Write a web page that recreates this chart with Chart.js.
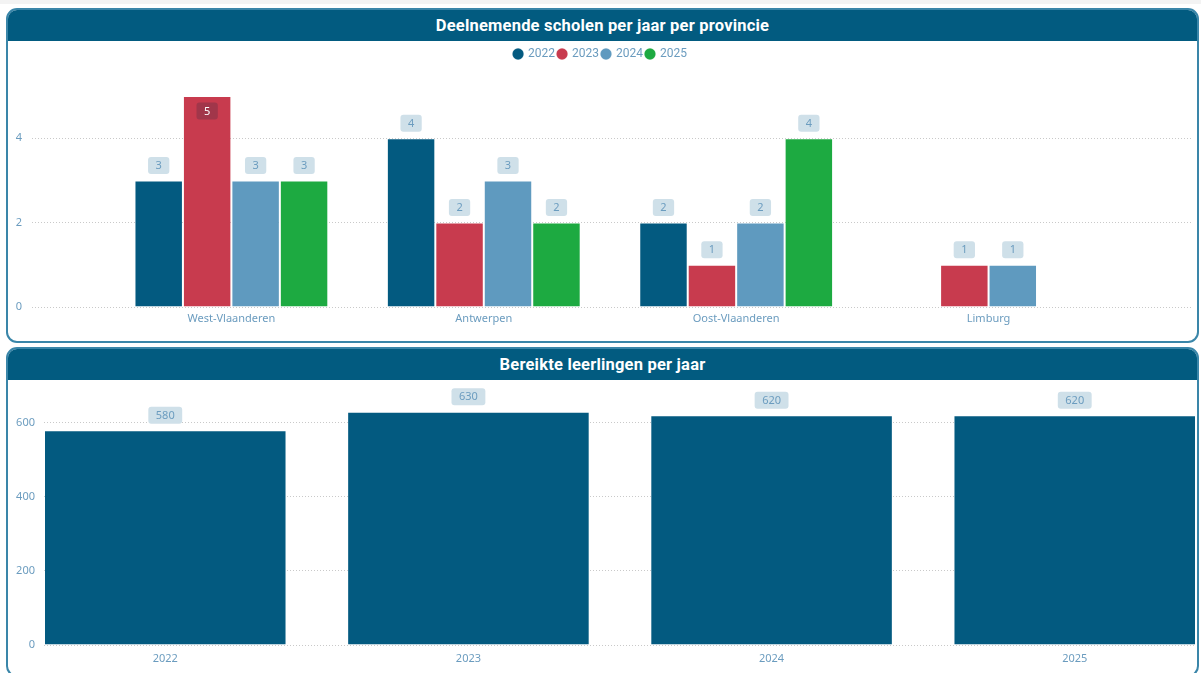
<!DOCTYPE html>
<html>
<head>
<meta charset="utf-8">
<script src="https://cdn.jsdelivr.net/npm/chart.js@4.4.0/dist/chart.umd.min.js"></script>
<style>
    body { margin: 0; background: #fff; width: 1201px; height: 673px; overflow: hidden; position: relative; }
    .strip { position: absolute; left: 0; top: 0; width: 1201px; height: 4px; background: #f3f3f3; }
    .panel { position: absolute; left: 6px; width: 1193px; border: 2px solid #3a86a9; border-radius: 11px; box-sizing: border-box; overflow: hidden; }
    .panel .head { height: 31px; background: #025b80; color: #fff; text-align: center; font: bold 16.5px Roboto, 'DejaVu Sans', sans-serif; line-height: 31px; letter-spacing: 0.2px; }
    canvas { position: absolute; }
</style>
</head>
<body>
<div class="strip"></div>
<div class="panel" style="top:8px;height:335px;"><div class="head">Deelnemende scholen per jaar per provincie</div></div>
<div class="panel" style="top:347px;height:330px;"><div class="head">Bereikte leerlingen per jaar</div></div>
<canvas id="schools" width="1190" height="300" style="left:8px;top:40px;"></canvas>
<canvas id="students" width="1190" height="292" style="left:8px;top:379px;"></canvas>
<script>
// schools per province per year
const provinces = ['West-Vlaanderen', 'Antwerpen', 'Oost-Vlaanderen', 'Limburg'];
const years = ['2022', '2023', '2024', '2025'];
const schools2022 = [3, 4, 2, null];
const schools2023 = [5, 2, 1, 1];
const schools2024 = [3, 3, 2, 1];
const schools2025 = [3, 2, 4, null];
const yearColors = ['#035a80', '#c83b4e', '#5f9abf', '#1daa41'];

// students reached per year
const studentYears = ['2022', '2023', '2024', '2025'];
const students = [580, 630, 620, 620];

const tickColor = '#6b9cbf';
const tickFont = { family: "'Segoe UI', 'Noto Sans', sans-serif", size: 11 };

// value labels in little rounded boxes, like the power bi ones
const valueLabels = {
    id: 'valueLabels',
    afterDatasetsDraw(chart) {
        const ctx = chart.ctx;
        const yMax = chart.scales.y.max;
        ctx.save();
        ctx.font = "11px 'Segoe UI', 'Noto Sans', sans-serif";
        ctx.textAlign = 'center';
        ctx.textBaseline = 'middle';
        chart.data.datasets.forEach((ds, i) => {
            chart.getDatasetMeta(i).data.forEach((bar, j) => {
                const v = ds.data[j];
                if (v === null || v === undefined) return;
                const txt = String(v);
                const w = ctx.measureText(txt).width + 15;
                const h = 17;
                const inside = v >= yMax;   // no room above the bar
                const cy = inside ? bar.y + 15 : bar.y - 15;
                ctx.fillStyle = inside ? 'rgba(90, 45, 70, 0.35)' : '#cfe0e9';
                ctx.beginPath();
                ctx.roundRect(bar.x - w / 2, cy - h / 2, w, h, 3);
                ctx.fill();
                ctx.fillStyle = inside ? '#ffffff' : tickColor;
                ctx.fillText(txt, bar.x, cy + 0.5);
            });
        });
        ctx.restore();
    }
};

// make room between legend and plot
const legendGap = {
    id: 'legendGap',
    beforeInit(chart) {
        const fit = chart.legend.fit;
        chart.legend.fit = function () {
            fit.bind(chart.legend)();
            this.height = 51;
        };
    }
};

function xScale(labels, min, max, pad, height) {
    return {
        type: 'linear',
        offset: false,
        min: min,
        max: max,
        grid: { display: false, drawTicks: false },
        border: { display: false },
        afterBuildTicks: (scale) => { scale.ticks = labels.map((_, i) => ({ value: i })); },
        afterFit: (scale) => { scale.height = height; },
        ticks: { color: tickColor, font: tickFont, padding: pad, maxRotation: 0, autoSkip: false,
                 callback: (v) => labels[v] }
    };
}

function yScale(max, step, width, pad) {
    return {
        min: 0,
        max: max,
        grid: { color: '#c9c9c9', drawTicks: false },
        border: { display: false, dash: [1, 2] },
        ticks: { stepSize: step, includeBounds: false, color: tickColor, font: tickFont, padding: pad },
        afterFit: (scale) => { scale.width = width; }
    };
}

const schoolSeries = [schools2022, schools2023, schools2024, schools2025];

new Chart(document.getElementById('schools'), {
    type: 'bar',
    data: {
        labels: provinces.map((_, i) => i),
        datasets: years.map((y, i) => ({
            label: y,
            data: schoolSeries[i],
            backgroundColor: yearColors[i],
            borderColor: 'rgba(255,255,255,0.1)',
            borderWidth: 1,
            categoryPercentage: 0.768,
            barPercentage: 1
        }))
    },
    options: {
        responsive: false,
        animation: false,
        layout: { padding: { top: 5, right: 5, left: 0, bottom: 0 } },
        plugins: {
            legend: {
                labels: { usePointStyle: true, pointStyle: 'circle', boxWidth: 8, boxHeight: 8, padding: 3,
                          color: tickColor, font: { family: 'Roboto, sans-serif', size: 12 } }
            },
            tooltip: { enabled: false }
        },
        scales: {
            x: xScale(provinces, -0.79, 3.81, 5, 33),
            y: yScale(5, 2, 24, 10)
        }
    },
    plugins: [valueLabels, legendGap]
});

new Chart(document.getElementById('students'), {
    type: 'bar',
    data: {
        labels: studentYears.map((_, i) => i),
        datasets: [{
            label: 'Leerlingen',
            data: students,
            backgroundColor: '#035a80',
            borderColor: 'rgba(255,255,255,0.1)',
            borderWidth: 1,
            categoryPercentage: 0.8,
            barPercentage: 1
        }]
    },
    options: {
        responsive: false,
        animation: false,
        layout: { padding: { top: 0, right: 2, left: 0, bottom: 0 } },
        plugins: { legend: { display: false }, tooltip: { enabled: false } },
        scales: {
            x: xScale(studentYears, -0.4, 3.4, 7, 26),
            y: yScale(676, 200, 36, 9)
        }
    },
    plugins: [valueLabels]
});
</script>
</body>
</html>
